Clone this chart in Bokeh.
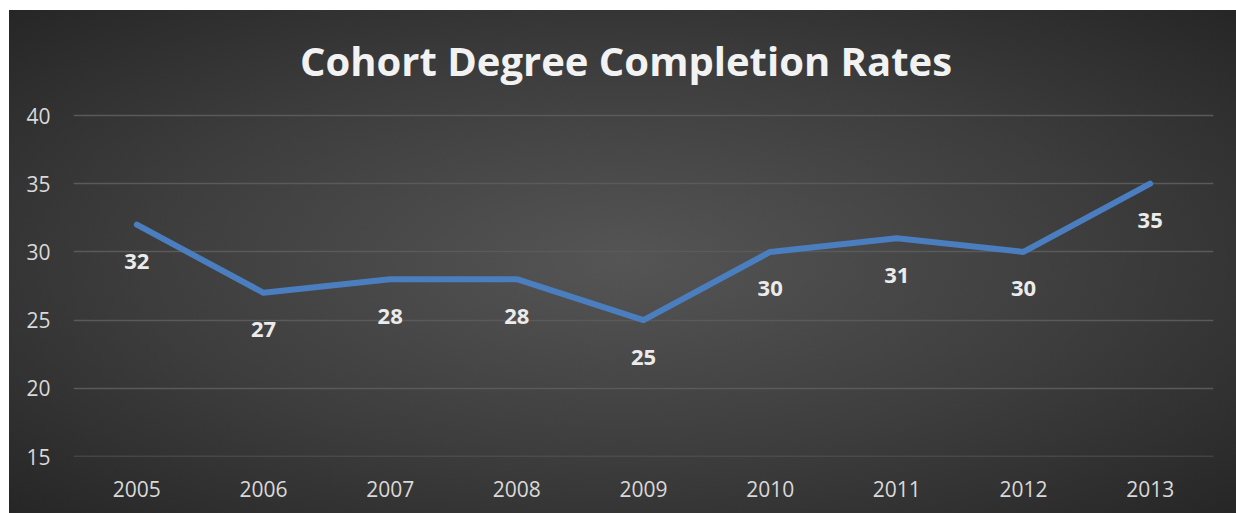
from bokeh.plotting import figure
from bokeh.models import ColumnDataSource, LabelSet, FixedTicker, Span, Label
from bokeh.core.properties import value
from bokeh.embed import file_html
from bokeh.resources import INLINE

title_text = "Cohort Degree Completion Rates"
years = ["2005", "2006", "2007", "2008", "2009", "2010", "2011", "2012", "2013"]
rates = [32, 27, 28, 28, 25, 30, 31, 30, 35]
y_ticks = [15, 20, 25, 30, 35, 40]

src = ColumnDataSource(dict(x=years, y=rates, lab=[str(v) for v in rates]))

# layout (pixels)
W, H = 1227, 503
BL, BR, BB = 64, 23, 57
TOP_PAD = 105            # space above the 40 gridline, used by the title
frame_h = H - BB         # plot frame spans the whole height above the x labels
grid_h = frame_h - TOP_PAD
y_end = y_ticks[-1] + TOP_PAD * (y_ticks[-1] - y_ticks[0]) / grid_h

p = figure(width=W, height=H, x_range=years, y_range=(y_ticks[0], y_end),
           output_backend="svg", toolbar_location=None,
           min_border_left=BL, min_border_right=BR, min_border_top=0, min_border_bottom=BB)
p.styles = {"background": "radial-gradient(ellipse at 50% 50%, #555555 0%, #3d3d3d 55%, #262626 100%)",
            "margin-left": "9px", "margin-top": "10px"}
p.border_fill_color = None
p.background_fill_color = None
p.outline_line_color = None
p.title.text = ""

title = Label(x=W / 2 - BL + 3, y=frame_h - 50, x_units="screen", y_units="screen",
              text=title_text, text_align="center", text_baseline="middle",
              text_font="Open Sans", text_font_style="bold", text_font_size="40px",
              text_color="#f2f2f2")
p.add_layout(title)

for ax in (p.xaxis[0], p.yaxis[0]):
    ax.axis_line_color = None
    ax.major_tick_line_color = None
    ax.minor_tick_line_color = None
    ax.major_label_text_font = "Open Sans"
    ax.major_label_text_font_size = "21px"
    ax.major_label_text_color = "#d9d9d9"
p.yaxis.ticker = FixedTicker(ticks=y_ticks)
p.yaxis.major_label_standoff = 17
p.xaxis.major_label_standoff = 18
p.xgrid.grid_line_color = None
p.ygrid.grid_line_color = "#5a5a5a"
p.ygrid.grid_line_width = 1.5
p.x_range.range_padding = 0

base = Span(location=y_ticks[0], dimension="width", line_color="#5a5a5a", line_width=1.5)
p.add_layout(base)

p.line("x", "y", source=src, line_color="#4a7ebf", line_width=6, line_join="round", line_cap="round")

labels = LabelSet(x="x", y="y", text="lab", source=src, y_offset=-37,
                  text_align="center", text_baseline="middle",
                  text_font=value("Open Sans"), text_font_style="bold",
                  text_font_size="22px", text_color="#ebebeb")
p.add_layout(labels)

open("out.html", "w").write(file_html(p, INLINE))
